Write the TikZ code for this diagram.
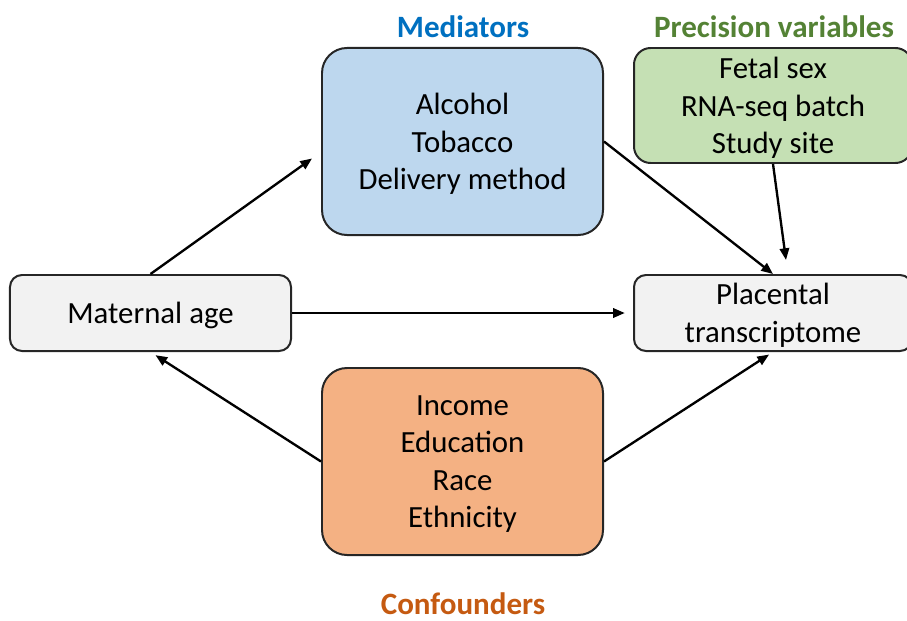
\documentclass[tikz,border=0pt]{standalone}
\usepackage{fontspec}
\setmainfont{Carlito}
\usepackage{tikz}
\usetikzlibrary{positioning, arrows.meta, calc}

\definecolor{medfill}{HTML}{BDD7EE}
\definecolor{precfill}{HTML}{C5E0B4}
\definecolor{conffill}{HTML}{F4B183}
\definecolor{plainfill}{HTML}{F2F2F2}
\definecolor{medtext}{HTML}{0070C0}
\definecolor{prectext}{HTML}{548235}
\definecolor{conftext}{HTML}{C55A11}

\begin{document}
\begin{tikzpicture}[x=0.03cm, y=-0.03cm,
    box/.style={rectangle, draw=black!85, line width=1.7pt, align=center,
                inner sep=0pt, text depth=0pt, font=\fontsize{26.3}{32}\selectfont},
    bigbox/.style={box, minimum width=8.43cm, minimum height=5.61cm, rounded corners=0.75cm},
    smallbox/.style={box, minimum width=8.43cm, minimum height=2.28cm, rounded corners=0.36cm},
    title/.style={inner sep=1pt, font=\fontsize{26.5}{32}\selectfont\bfseries},
    arrow/.style={-{Triangle[length=10pt, width=8pt]}, line width=2pt}
]
    \useasboundingbox (0,0) rectangle (907,620);
    \clip (0,0) rectangle (907,620);

    % === Titles ===
    \node[title, text=medtext] (medtitle) at (463,27) {Mediators};
    \node[title, text=prectext] (prectitle) at (774,27) {Precision variables};
    \node[title, text=conftext, text depth=0pt] (conftitle) at (463,604) {Confounders};

    % === Boxes ===
    \node[smallbox, fill=plainfill] (age) at (150.5,313) {Maternal age};
    \node[smallbox, fill=plainfill, minimum width=8.34cm] (plac) at (773,313)
        {Placental\\transcriptome};
    \node[bigbox, fill=medfill] (med) at (462.5,141.5)
        {Alcohol\\Tobacco\\Delivery method};
    \node[bigbox, fill=conffill] (conf) at (462.5,461.5)
        {Income\\Education\\Race\\Ethnicity};
    \node[box, fill=precfill, minimum width=8.34cm, minimum height=3.45cm,
          rounded corners=0.5cm] (prec) at (773,105.5)
        {Fetal sex\\RNA-seq batch\\Study site};

    % === Arrows ===
    \draw[arrow] (age.north) -- ($(med.west)+(-9,17)$);
    \draw[arrow] (med.east) -- (plac.north);
    \draw[arrow] (prec.south) -- ($(plac.north)+(13,-14)$);
    \draw[arrow, shorten >=7pt] (age.east) -- (plac.west);
    \draw[arrow, shorten >=5pt] (conf.west) -- (age.south);
    \draw[arrow, shorten >=4pt] (conf.east) -- (plac.south);

\end{tikzpicture}
\end{document}
